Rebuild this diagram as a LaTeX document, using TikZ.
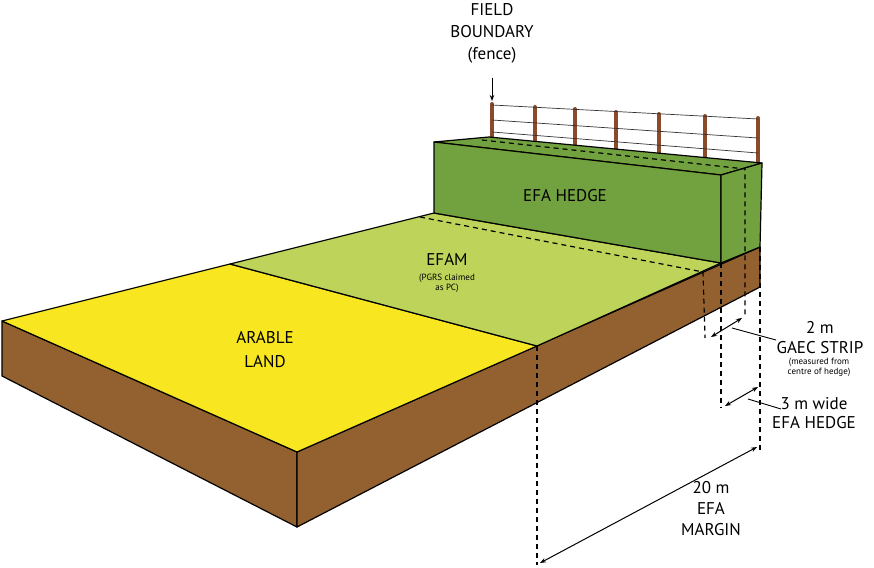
\documentclass[tikz,border=0pt]{standalone}
\usepackage{fontspec}
\setmainfont{PT Sans}
\usetikzlibrary{arrows.meta}
\definecolor{arable}{HTML}{F7E620}
\definecolor{efam}{HTML}{BDD35A}
\definecolor{hedge}{HTML}{72A23F}
\definecolor{soil}{HTML}{93602F}
\definecolor{post}{HTML}{8B4A2A}
\tikzset{
  face/.style={draw=black, line width=1.2pt, line join=round},
  dsh/.style={draw=black, line width=1.2pt, dash pattern=on 5pt off 4pt},
  dim/.style={draw=black, line width=1pt, {Stealth[length=6pt]}-{Stealth[length=6pt]}},
  lead/.style={draw=black, line width=0.9pt},
  lbl/.style={align=center, font=\fontsize{17}{19}\selectfont, inner sep=0pt},
  small/.style={align=center, font=\fontsize{9}{10}\selectfont, inner sep=0pt},
  postst/.style={draw=post, line width=4pt, line cap=round},
  wire/.style={draw=black!80, line width=0.7pt}
}
\begin{document}
\begin{tikzpicture}[x=1pt,y=-1pt]
\useasboundingbox (0,0) rectangle (874,567);
% key points
\coordinate (A) at (2,321);
\coordinate (B) at (230,264);
\coordinate (F) at (297,452);
\coordinate (R) at (537,346);
\coordinate (Fb) at (297,527);
\coordinate (Ab) at (2,376);
\coordinate (E) at (760,247);
\coordinate (Eb) at (760,287);
\coordinate (HL) at (434,213);
\coordinate (HLt) at (434,142);
\coordinate (HR) at (721,263);
\coordinate (HRt) at (721,175);
\coordinate (HB) at (762,163);
\coordinate (HBl) at (489,137);
% soil faces
\draw[face, fill=soil] (A) -- (F) -- (Fb) -- (Ab) -- cycle;
\draw[face, fill=soil] (F) -- (E) -- (Eb) -- (Fb) -- cycle;
% top surfaces
\draw[face, fill=arable] (A) -- (B) -- (R) -- (F) -- cycle;
\draw[face, fill=efam] (B) -- (HL) -- (HR) -- (R) -- cycle;
% fence posts and wires
\foreach \x/\t in {492/104,535/107,575/109,616/112,659/114,705/116,758/118}{
  \pgfmathsetmacro{\b}{137+(\x-489)*0.0956}
  \draw[postst] (\x,\t) -- (\x,\b);
}
\draw[wire] (492,105) -- (758,119);
\draw[wire] (492,120) -- (758,138);
\draw[wire] (492,132) -- (758,153);
% hedge
\draw[face, fill=hedge] (HLt) -- (HBl) -- (HB) -- (HRt) -- cycle;
\draw[face, fill=hedge] (HLt) -- (HRt) -- (HR) -- (HL) -- cycle;
\draw[face, fill=hedge] (HRt) -- (HB) -- (E) -- (HR) -- cycle;
% dashed lines
\draw[dsh] (482,140) -- (745,169) -- (745,315);
\draw[dsh] (420,217) -- (703,272) -- (705,338);
\draw[dsh] (HR) -- (721,408);
\draw[dsh] (R) -- (537,565);
\draw[dsh] (E) -- (760,450);
% dimension arrows
\coordinate (d2a) at (711,337); \coordinate (d2b) at (742,318);
\draw[dim] (d2a) -- (d2b);
\coordinate (d3a) at (725,406); \coordinate (d3b) at (758,387);
\draw[dim] (d3a) -- (d3b);
\coordinate (d20a) at (540,563); \coordinate (d20b) at (757,447);
\draw[dim] (d20a) -- (d20b);
% labels
\node[lbl] (tHedge) at (565,196) {EFA HEDGE};
\node[lbl] (tEfam) at (447,259) {EFAM};
\node[small] (tEfamS) at (447,283) {(PGRS claimed\\as PC)};
\node[lbl, font=\fontsize{17}{24}\selectfont] (tArable) at (265,350) {ARABLE\\LAND};
\node[lbl, font=\fontsize{17}{22}\selectfont] (tField) at (492,33) {FIELD\\BOUNDARY\\(fence)};
\coordinate (fa) at (492,78); \coordinate (fb) at (492,101);
\draw[line width=1pt, -{Stealth[length=6pt]}] (fa) -- (fb);
\node[lbl, font=\fontsize{17}{20}\selectfont] (t2) at (820,338) {2 m\\GAEC STRIP};
\node[small] (t2s) at (819,367) {(measured from\\centre of hedge)};
\node[lbl, font=\fontsize{17}{19}\selectfont] (t3) at (814,413) {3 m wide\\EFA HEDGE};
\node[lbl, font=\fontsize{17}{21}\selectfont] (t20) at (711,509) {20 m\\EFA\\MARGIN};
\coordinate (l2a) at (732,328); \coordinate (l2b) at (776,340);
\draw[lead] (l2a) -- (l2b);
\coordinate (l3a) at (748,399); \coordinate (l3b) at (781,409);
\draw[lead] (l3a) -- (l3b);
\end{tikzpicture}
\end{document}
